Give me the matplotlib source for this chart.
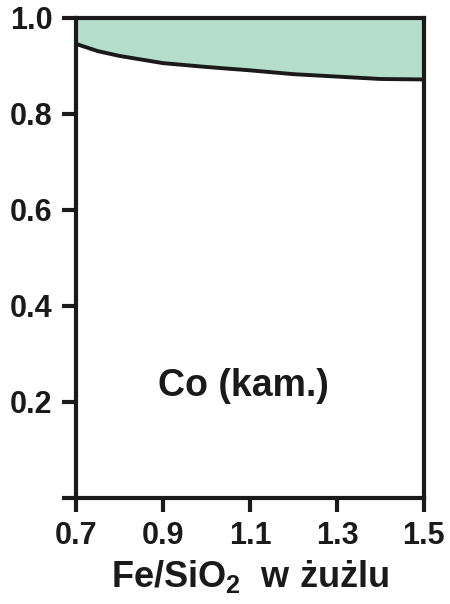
# Co recovery vs Fe/SiO2 ratio in slag
import numpy as np
import matplotlib.pyplot as plt

plt.rcParams['font.family'] = ['Liberation Sans', 'DejaVu Sans']
plt.rcParams['font.weight'] = 'bold'
plt.rcParams['mathtext.default'] = 'bf'
plt.rcParams['mathtext.fontset'] = 'custom'
plt.rcParams['mathtext.bf'] = 'Liberation Sans:bold'

# Data ........................................................................

fe_sio2 = [0.70, 0.75, 0.80, 0.90, 1.00, 1.10, 1.20, 1.30, 1.40, 1.50]
co_frac = [0.945, 0.930, 0.920, 0.905, 0.897, 0.890, 0.882, 0.877, 0.872, 0.871]

x_ticks = [0.7, 0.9, 1.1, 1.3, 1.5]
y_ticks = [0.0, 0.2, 0.4, 0.6, 0.8, 1.0]
y_labels = ["", "0.2", "0.4", "0.6", "0.8", "1.0"]

# Plot ........................................................................

ink = "#1a1a1a"
fig = plt.figure(figsize = (4.5, 6.04), dpi = 100)
ax = fig.add_axes([0.169, 0.176, 0.773, 0.795])

ax.fill_between(fe_sio2, co_frac, 1.0, color = "#b4ddcb", lw = 0)
ax.plot(fe_sio2, co_frac, color = ink, lw = 2.8, solid_capstyle = "butt")

ax.set_xlim(0.7, 1.5)
ax.set_ylim(0.0, 1.0)
ax.set_xticks(x_ticks)
ax.set_xticklabels([f"{v:.1f}" for v in x_ticks])
ax.set_yticks(y_ticks)
ax.set_yticklabels(y_labels)

for s in ax.spines.values():
    s.set_linewidth(3)
    s.set_color(ink)
ax.tick_params(direction = "out", length = 10, width = 3, color = ink,
               labelsize = 22, labelcolor = ink, pad = 7)

ax.text(1.084, 0.233, "Co (kam.)", ha = "center", va = "center",
        fontsize = 27, fontweight = "bold", color = ink)
ax.set_xlabel("Fe/SiO$_2$  w żużlu", fontsize = 26, fontweight = "bold",
              color = ink, labelpad = 5)

plt.savefig("out.png", dpi = 100)
